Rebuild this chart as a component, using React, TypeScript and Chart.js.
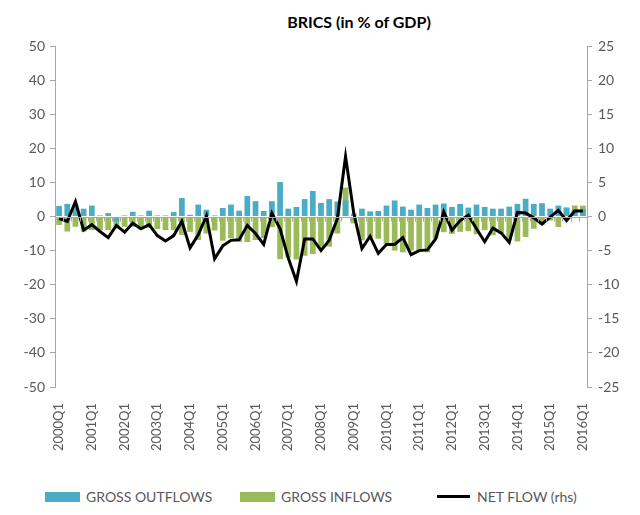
import React, { useEffect, useRef } from "react";
import { Chart, registerables } from "chart.js";

Chart.register(...registerables);

const years = [2000, 2001, 2002, 2003, 2004, 2005, 2006, 2007, 2008, 2009, 2010, 2011, 2012, 2013, 2014, 2015, 2016];
const quarters = ["Q1", "Q2", "Q3", "Q4"];
const categories: string[] = [];
years.forEach((y) => quarters.forEach((q) => { if (y < 2016 || q === "Q1") categories.push(`${y}${q}`); }));

// GROSS OUTFLOWS (% of GDP, left axis)
const grossOutflows = [
  3.1, 3.7, 3.4, 2.3, 3.2, 0.3, 1.0, -1.5,
  0.3, 1.4, 0.3, 1.7, 0.3, 0.3, 1.3, 5.4,
  0.5, 3.5, 2.0, 0.3, 2.5, 3.5, 1.7, 6.0,
  4.5, 1.6, 4.5, 10.1, 2.3, 2.8, 5.1, 7.5,
  4.0, 5.1, 4.4, 4.7, 0.8, 2.3, 1.5, 1.6,
  3.2, 4.7, 2.9, 2.0, 3.5, 2.5, 3.5, 3.8,
  2.8, 3.7, 2.6, 3.5, 2.8, 2.3, 2.3, 2.9,
  3.7, 5.2, 3.7, 3.9, 2.3, 3.2, 2.5, 2.2,
  2.2,
];

// GROSS INFLOWS (% of GDP, left axis)
const grossInflows = [
  -2.5, -4.4, -3.0, -4.4, -4.0, -4.0, -4.0, -3.5,
  -3.0, -3.0, -3.7, -3.4, -3.7, -4.0, -4.0, -5.4,
  -4.5, -6.9, -5.0, -4.1, -7.1, -6.4, -7.5, -7.5,
  -6.9, -6.3, -3.1, -12.5, -12.0, -12.6, -11.5, -11.0,
  -9.5, -8.8, -5.0, 8.5, -2.0, -7.0, -6.1, -6.5,
  -8.0, -10.0, -10.5, -10.0, -10.0, -10.5, -6.5, -4.6,
  -5.1, -4.5, -4.3, -5.2, -4.0, -5.5, -5.0, -7.0,
  -7.3, -6.0, -3.6, -2.4, -1.2, -3.1, 2.7, 3.2,
  3.2,
];

// NET FLOW (rhs)
const netFlow = [
  -0.3, -0.7, 2.2, -2.0, -1.2, -2.2, -3.1, -1.3,
  -2.3, -1.0, -1.8, -1.2, -2.8, -3.6, -2.8, -0.7,
  -4.6, -2.7, 0.1, -6.2, -4.3, -3.5, -3.4, -1.3,
  -2.5, -4.1, 0.5, -1.8, -6.1, -9.5, -3.3, -3.3,
  -5.0, -3.5, -0.3, 8.8, 0.5, -4.7, -2.9, -5.4,
  -4.1, -4.1, -3.1, -5.6, -5.0, -4.9, -3.3, 0.7,
  -2.0, -0.6, 0.2, -1.8, -3.7, -1.7, -2.4, -3.8,
  0.6, 0.5, -0.2, -1.1, -0.1, 0.9, -0.6, 0.8,
  0.8,
];

const leftTicks = { min: -50, max: 50, step: 10 };
const rightTicks = { min: -25, max: 25, step: 5 };

const FONT = "Lato, 'Open Sans', sans-serif";
const TEXT = "#595959";
const AXIS = "#a6a6a6";
const BLUE = "#4BACC6";
const GREEN = "#9BBB59";

const zeroAxisPlugin = {
  id: "zeroAxis",
  afterDatasetsDraw(chart: any) {
    const { ctx, chartArea, scales } = chart;
    const y0 = Math.round(scales.y.getPixelForValue(0)) + 0.5;
    ctx.save();
    ctx.strokeStyle = AXIS;
    ctx.lineWidth = 1;
    ctx.beginPath();
    ctx.moveTo(chartArea.left, y0);
    ctx.lineTo(chartArea.right, y0);
    const n = categories.length;
    for (let i = 1; i < n; i++) {
      const x = Math.round((scales.x.getPixelForValue(i - 1) + scales.x.getPixelForValue(i)) / 2) + 0.5;
      ctx.moveTo(x, y0);
      ctx.lineTo(x, y0 + 4);
    }
    ctx.stroke();
    ctx.restore();
  },
  beforeDatasetsDraw() {},
};

export default function App() {
  const ref = useRef<HTMLCanvasElement | null>(null);
  useEffect(() => {
    if (!ref.current) return;
    const chart = new Chart(ref.current, {
      data: {
        labels: categories,
        datasets: [
          {
            type: "line",
            label: "NET FLOW (rhs)",
            data: netFlow,
            yAxisID: "y1",
            borderColor: "#000000",
            borderWidth: 3,
            pointRadius: 0,
            tension: 0,
            order: 0,
          } as any,
          {
            type: "bar",
            label: "GROSS OUTFLOWS",
            data: grossOutflows,
            yAxisID: "y",
            backgroundColor: BLUE,
            grouped: false,
            barPercentage: 0.7,
            categoryPercentage: 1,
            order: 1,
          } as any,
          {
            type: "bar",
            label: "GROSS INFLOWS",
            data: grossInflows,
            yAxisID: "y",
            backgroundColor: GREEN,
            grouped: false,
            barPercentage: 0.7,
            categoryPercentage: 1,
            order: 2,
          } as any,
        ],
      },
      options: {
        responsive: false,
        animation: false,
        devicePixelRatio: 1,
        layout: { padding: { top: 46, left: 0, right: 0, bottom: 0 } },
        plugins: { legend: { display: false }, title: { display: false }, tooltip: { enabled: false } },
        scales: {
          x: {
            type: "category",
            offset: true,
            grid: { display: false },
            border: { display: false },
            ticks: {
              autoSkip: false,
              maxRotation: 90,
              minRotation: 90,
              padding: 8,
              color: TEXT,
              font: { family: FONT, size: 13 },
              callback: (_v: any, i: number) => (i % 4 === 0 ? categories[i] : ""),
            },
            afterFit: (s: any) => { s.height = 73; },
          },
          y: {
            position: "left",
            min: leftTicks.min,
            max: leftTicks.max,
            ticks: { stepSize: leftTicks.step, color: TEXT, font: { family: FONT, size: 14 }, padding: 5 },
            grid: { drawOnChartArea: false, tickLength: 5, color: AXIS },
            border: { color: AXIS },
            afterFit: (s: any) => { s.width = 55; },
          },
          y1: {
            position: "right",
            min: rightTicks.min,
            max: rightTicks.max,
            ticks: { stepSize: rightTicks.step, color: TEXT, font: { family: FONT, size: 14 }, padding: 6 },
            grid: { drawOnChartArea: false, tickLength: 5, color: AXIS },
            border: { color: AXIS },
            afterFit: (s: any) => { s.width = 53; },
          },
        },
      } as any,
      plugins: [zeroAxisPlugin],
    });
    return () => chart.destroy();
  }, []);

  const legendText: React.CSSProperties = { fontFamily: FONT, fontSize: 14, color: TEXT, whiteSpace: "nowrap" };
  return (
    <div style={{ position: "fixed", left: 0, top: 0, width: 640, height: 515, background: "#fff" }}>
      <div style={{ position: "absolute", left: 359, top: 12, transform: "translateX(-50%)", fontFamily: FONT, fontWeight: 700, fontSize: 16, color: "#000", whiteSpace: "nowrap" }}>
        BRICS (in % of GDP)
      </div>
      <canvas ref={ref} width={640} height={460} style={{ position: "absolute", left: 0, top: 0 }} />
      <div style={{ position: "absolute", left: 45, top: 488, display: "flex", alignItems: "center" }}>
        <span style={{ display: "inline-block", width: 35, height: 10, background: BLUE, marginRight: 6 }} />
        <span style={{ ...legendText, width: 154 }}>GROSS OUTFLOWS</span>
        <span style={{ display: "inline-block", width: 35, height: 10, background: GREEN, marginRight: 6 }} />
        <span style={{ ...legendText, width: 156 }}>GROSS INFLOWS</span>
        <span style={{ display: "inline-block", width: 33, height: 3, background: "#000", marginRight: 7 }} />
        <span style={legendText}>NET FLOW (rhs)</span>
      </div>
    </div>
  );
}
